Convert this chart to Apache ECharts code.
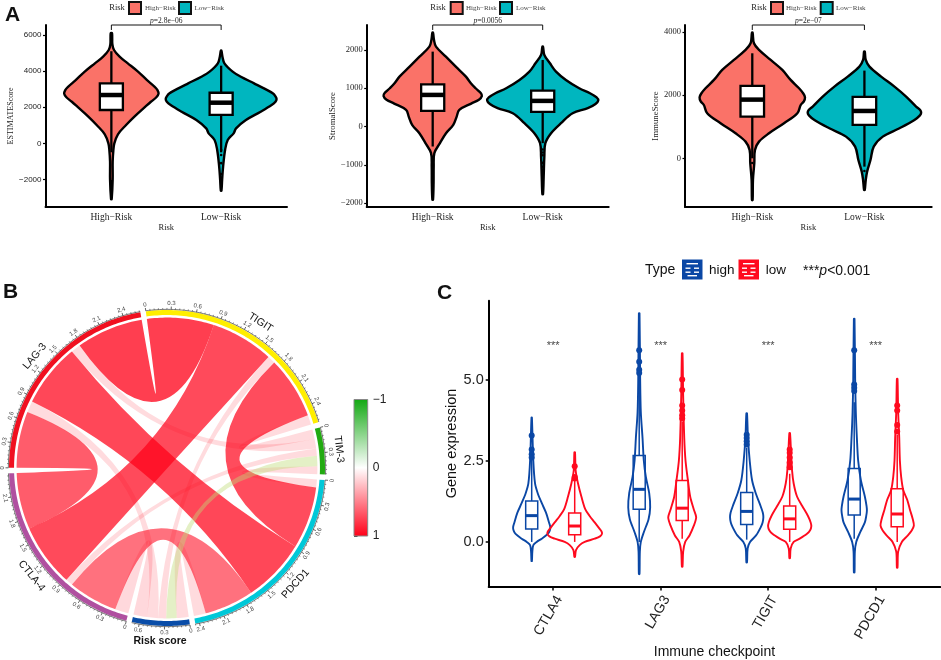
<!DOCTYPE html>
<html><head><meta charset="utf-8">
<style>html,body{margin:0;padding:0;background:#fff}#c{width:941px;height:660px}</style>
<script src="https://cdn.jsdelivr.net/npm/echarts@6/dist/echarts.min.js"></script>
</head><body><div id="c"></div>
<script>
// ---------- Panel A data: [score, half width of violin]
const riskCategories = ['High−Risk', 'Low−Risk'];
const estimateHigh = [[6100,.006],[5500,.009],[5170,.024],[4800,.075],[4430,.15],[3985,.24],[3500,.325],[3130,.395],[2950,.42],[2750,.43],[2550,.41],[2300,.36],[2030,.31],[1480,.21],[1000,.132],[500,.06],[0,.027],[-400,.018],[-1000,.012],[-2000,.012],[-3100,.003]];
const estimateLow = [[5130,.003],[4800,.012],[4430,.03],[3970,.105],[3690,.18],[3320,.30],[3040,.39],[2770,.47],[2600,.495],[2450,.505],[2300,.495],[2120,.46],[1750,.36],[1290,.226],[830,.136],[550,.114],[185,.06],[-370,.036],[-1290,.018],[-2030,.009],[-2620,.003]];
const stromalHigh = [[2452,.003],[2260,.012],[2087,.03],[1826,.12],[1565,.21],[1304,.302],[1130,.347],[1000,.39],[880,.435],[800,.447],[700,.42],[600,.35],[435,.242],[260,.218],[43,.187],[-174,.121],[-435,.066],[-696,.015],[-1043,.009],[-1478,.008],[-1913,.003]];
const stromalLow = [[2087,.003],[1870,.015],[1652,.066],[1435,.121],[1217,.211],[1000,.332],[870,.43],[760,.49],[680,.505],[590,.48],[480,.41],[348,.272],[87,.166],[-174,.076],[-435,.024],[-783,.015],[-1304,.009],[-1765,.003]];
const immuneHigh = [[3977,.003],[3640,.015],[3430,.06],[3112,.164],[2796,.268],[2480,.342],[2215,.417],[2050,.455],[1930,.47],[1800,.46],[1688,.432],[1424,.402],[1108,.283],[790,.149],[527,.06],[264,.024],[-158,.018],[-686,.006],[-1320,.003]];
const immuneLow = [[3376,.003],[3112,.012],[2900,.045],[2585,.149],[2268,.268],[1952,.372],[1635,.461],[1530,.497],[1445,.506],[1360,.495],[1213,.446],[950,.313],[686,.164],[370,.083],[-53,.054],[-422,.024],[-686,.012],[-1002,.003]];
// box: whisker low, q1, median, q3, whisker high
const estimateHighBox = [-500,1845,2675,3320,5100];
const estimateLowBox = [-500,1570,2250,2800,4300];
const stromalHighBox = [-522,409,826,1104,1957];
const stromalLowBox = [-435,383,670,939,1740];
const immuneHighBox = [0,1320,1857,2290,3323];
const immuneLowBox = [-264,1055,1498,1941,2775];
const estimateHighOut = [-2100];
const estimateLowOut = [-370,-650,-1100,-1700];
const stromalHighOut = [];
const stromalLowOut = [-600,-680,-750,-950,-1050];
const immuneHighOut = [-150];
const immuneLowOut = [-400];
const estimateTicks = [-2000,0,2000,4000,6000];
const stromalTicks = [-2000,-1000,0,1000,2000];
const immuneTicks = [0,2000,4000];

// ---------- Panel B data
const sectorNames = ['TIGIT','TIM-3','PDCD1','Risk score','CTLA-4','LAG-3'];
const sectorColors = ['#FFEE00','#22AA11','#00C8D8','#0A4DA8','#B050A0','#F01020'];
const linkFrom = ['LAG-3','LAG-3','LAG-3','LAG-3','LAG-3','TIGIT','TIGIT','TIGIT','TIGIT','PDCD1','PDCD1','PDCD1','CTLA-4','CTLA-4','TIM-3'];
const linkTo   = ['TIGIT','PDCD1','CTLA-4','TIM-3','Risk score','CTLA-4','PDCD1','TIM-3','Risk score','CTLA-4','TIM-3','Risk score','Risk score','TIM-3','Risk score'];
const linkCorr = [.84,.80,.71,.12,.14,.79,.78,.12,.10,.62,.10,.15,.17,.09,-.13];
const tigitOrder = ['LAG-3','CTLA-4','Risk score','PDCD1','TIM-3'];
const tim3Order = ['TIGIT','LAG-3','CTLA-4','Risk score','PDCD1'];
const pdcd1Order = ['TIM-3','TIGIT','LAG-3','CTLA-4','Risk score'];
const riskOrder = ['PDCD1','TIM-3','TIGIT','LAG-3','CTLA-4'];
const ctla4Order = ['Risk score','PDCD1','TIM-3','TIGIT','LAG-3'];
const lag3Order = ['CTLA-4','Risk score','PDCD1','TIM-3','TIGIT'];
const sectorOrders = [tigitOrder,tim3Order,pdcd1Order,riskOrder,ctla4Order,lag3Order];
const chordTickLabels = ['0','0.3','0.6','0.9','1.2','1.5','1.8','2.1','2.4'];
const colorbarTicks = [-1,0,1];

// ---------- Panel C data: [expression, half width of violin]
const checkpoints = ['CTLA4','LAG3','TIGIT','PDCD1'];
const ctla4High = [[3.83,.002],[2.5,.015],[1.8,.031],[1.5,.056],[1.2,.093],[.9,.133],[.6,.161],[.45,.173],[.35,.168],[.25,.15],[.1,.093],[0,.046],[-.1,.015],[-.3,.006],[-.59,.002]];
const ctla4Low = [[2.76,.003],[2.2,.009],[1.8,.031],[1.4,.062],[1,.099],[.8,.139],[.6,.186],[.4,.232],[.32,.25],[.25,.254],[.17,.235],[.1,.186],[0,.093],[-.1,.046],[-.25,.012],[-.46,.003]];
const lag3High = [[7.04,.003],[5,.009],[4,.015],[3.2,.031],[2.5,.043],[2,.062],[1.5,.093],[1.06,.102],[.7,.087],[.3,.043],[0,.015],[-.3,.006],[-.99,.003]];
const lag3Low = [[5.81,.003],[4.5,.009],[3.2,.019],[2.5,.031],[1.9,.053],[1.4,.074],[1,.108],[.76,.13],[.5,.108],[.2,.068],[0,.028],[-.3,.009],[-.76,.003]];
const tigitHigh = [[3.96,.003],[3.2,.012],[2.5,.028],[1.9,.05],[1.5,.084],[1.1,.13],[.9,.15],[.76,.155],[.6,.148],[.45,.13],[.2,.087],[0,.031],[-.2,.009],[-.63,.003]];
const tigitLow = [[3.35,.003],[2.8,.012],[2.2,.022],[1.8,.037],[1.4,.068],[1.1,.118],[.8,.17],[.6,.195],[.48,.201],[.36,.19],[.25,.161],[.1,.093],[0,.037],[-.2,.009],[-.5,.003]];
const pdcd1High = [[6.87,.003],[5,.009],[4,.015],[3.2,.025],[2.5,.037],[1.9,.062],[1.4,.099],[1.1,.115],[.96,.118],[.8,.112],[.6,.099],[.3,.056],[0,.019],[-.3,.006],[-.94,.003]];
const pdcd1Low = [[5.02,.003],[4,.009],[3.2,.019],[2.5,.025],[2,.037],[1.6,.056],[1.3,.093],[1,.118],[.7,.145],[.5,.155],[.35,.135],[.2,.099],[0,.043],[-.3,.009],[-.79,.003]];
const ctla4HighBox = [0,.40,.81,1.26,2.55];
const ctla4LowBox = [0,.22,.49,.89,1.9];
const lag3HighBox = [0,1.01,1.62,2.66,5.0];
const lag3LowBox = [.1,.66,1.04,1.89,3.7];
const tigitHighBox = [.07,.54,.94,1.52,2.9];
const tigitLowBox = [0,.39,.71,1.11,2.1];
const pdcd1HighBox = [.1,.83,1.32,2.26,4.3];
const pdcd1LowBox = [0,.47,.86,1.64,3.3];
const ctla4HighOut = [3.28,2.85,2.7,2.6];
const ctla4LowOut = [2.33,2.0,1.95];
const lag3HighOut = [5.9,5.55,5.3,5.2];
const lag3LowOut = [5.0,4.68,4.2,4.05,3.9,3.8];
const tigitHighOut = [3.3,3.2,3.1,3.0];
const tigitLowOut = [2.85,2.75,2.6,2.45,2.3];
const pdcd1HighOut = [5.9,4.85,4.75,4.65];
const pdcd1LowOut = [4.2,4.05,3.6,3.4];
const exprTicks = [0,2.5,5];

// ---------- drawing helpers
const SERIF = '"Liberation Serif"', SANS = '"Liberation Sans"';
const HIGHC = '#FA7268', LOWC = '#00B6BF', BLUE = '#0A47A5', RED = '#FF0A1E';

function violinSeries(ax, cx, profile, box, outs, o) {
  return {
    type: 'custom', coordinateSystem: 'cartesian2d', xAxisIndex: ax, yAxisIndex: ax,
    clip: false, silent: true, data: [[cx, box[2]]], encode: {x: 0, y: 1},
    renderItem(p, api) {
      const pt = (x, y) => api.coord([x, y]);
      const poly = profile.map(d => pt(cx + d[1], d[0]))
        .concat(profile.slice().reverse().map(d => pt(cx - d[1], d[0])));
      const kids = [{type: 'polygon', shape: {points: poly, smooth: o.smooth},
        style: {fill: o.fill, stroke: o.stroke, lineWidth: o.lw, lineJoin: 'round'}}];
      const ln = (x1, y1, x2, y2, w) => { const a = pt(x1, y1), b = pt(x2, y2);
        return {type: 'line', shape: {x1: a[0], y1: a[1], x2: b[0], y2: b[1]},
          style: {stroke: o.boxStroke, lineWidth: w}}; };
      kids.push(ln(cx, box[0], cx, box[1], o.blw), ln(cx, box[3], cx, box[4], o.blw));
      const tl = pt(cx - o.bw, box[3]), br = pt(cx + o.bw, box[1]);
      kids.push({type: 'rect', shape: {x: tl[0], y: tl[1], width: br[0] - tl[0], height: br[1] - tl[1]},
        style: {fill: o.boxFill, stroke: o.boxStroke, lineWidth: o.blw}});
      kids.push(ln(cx - o.bw, box[2], cx + o.bw, box[2], o.mlw));
      outs.forEach(v => { const c = pt(cx, v);
        kids.push({type: 'circle', shape: {cx: c[0], cy: c[1], r: o.or}, style: {fill: o.boxStroke}}); });
      return {type: 'group', children: kids};
    }
  };
}
const aStyle = f => ({fill: f, stroke: '#000', lw: 2.4, smooth: 0.35, bw: .105, boxFill: '#fff', boxStroke: '#000', blw: 2.3, mlw: 4.5, or: 1.3});
const cStyle = c => ({fill: 'none', stroke: c, lw: 1.9, smooth: 0.3, bw: .056, boxFill: 'none', boxStroke: c, blw: 1.5, mlw: 3, or: 3});

function bracketSeries(ax, top, drop, p) {
  return {
    type: 'custom', coordinateSystem: 'cartesian2d', xAxisIndex: ax, yAxisIndex: ax, clip: false, silent: true,
    data: [[1.5, top]], encode: {x: 0, y: 1},
    renderItem(pp, api) {
      const a = api.coord([1, drop]), b = api.coord([1, top]), c = api.coord([2, top]), d = api.coord([2, drop]), m = api.coord([1.5, top]);
      return {type: 'group', children: [
        {type: 'polyline', shape: {points: [a, b, c, d]}, style: {fill: 'none', stroke: '#111', lineWidth: 1}},
        {type: 'text', x: m[0], y: m[1] - 3.5, style: {text: '{i|p}=' + p, fontFamily: SERIF, fontSize: 7.5, fill: '#222', align: 'center', verticalAlign: 'middle',
          rich: {i: {fontStyle: 'italic', fontFamily: SERIF, fontSize: 7.5, fill: '#222'}}}}
      ]};
    }
  };
}

// ---------- axes
const grids = [], xAxes = [], yAxes = [];
function addA(left, width, min, max, ticks, name, tickFont, nameSize, nameGap) {
  grids.push({left, top: 25, width, height: 182});
  xAxes.push({type: 'value', gridIndex: grids.length - 1, min: .4, max: 2.6, splitLine: {show: false}, name: 'Risk', nameLocation: 'middle', nameGap: 11.5,
    nameTextStyle: {fontFamily: SERIF, fontSize: 8.5, color: '#222'},
    axisLine: {onZero: false, lineStyle: {color: '#000', width: 2}},
    axisTick: {customValues: [1, 2], length: 0},
    axisLabel: {customValues: [1, 2], fontFamily: SERIF, fontSize: 9.5, color: '#222', margin: 5, formatter: v => riskCategories[v - 1]}});
  yAxes.push({type: 'value', gridIndex: grids.length - 1, min, max, splitLine: {show: false}, name, nameLocation: 'middle', nameGap,
    nameTextStyle: {fontFamily: SERIF, fontSize: nameSize, color: '#222'},
    axisLine: {onZero: false, lineStyle: {color: '#000', width: 2}},
    axisTick: {customValues: ticks, length: 2.5, lineStyle: {width: 1.2, color: '#000'}},
    axisLabel: {customValues: ticks, fontFamily: tickFont, fontSize: tickFont === SANS ? 8 : 8.5, color: '#222', margin: 4, formatter: v => String(v).replace('-', '−')}});
}
addA(45.5, 241.5, -3529, 6554, estimateTicks, 'ESTIMATEScore', SANS, 8, 24);
addA(366.7, 242, -2103, 2653, stromalTicks, 'StromalScore', SERIF, 8.8, 25);
addA(685, 246.7, -1541, 4218, immuneTicks, 'ImmuneScore', SERIF, 8.8, 21);
// panel C
grids.push({left: 488.7, top: 300.7, width: 451.5, height: 289.3});
xAxes.push({type: 'value', gridIndex: 3, min: .4, max: 4.6, splitLine: {show: false}, name: 'Immune checkpoint', nameLocation: 'middle', nameGap: 52,
  nameTextStyle: {fontFamily: SANS, fontSize: 14, color: '#111'},
  axisLine: {onZero: false, lineStyle: {color: '#000', width: 2}},
  axisTick: {customValues: [1,2,3,4], length: 4, lineStyle: {width: 1.5, color: '#000'}},
  axisLabel: {customValues: [1,2,3,4], rotate: 60, verticalAlign: 'top', align: 'right', fontFamily: SANS, fontSize: 14, color: '#222', margin: 7, formatter: v => checkpoints[v - 1]}});
yAxes.push({type: 'value', gridIndex: 3, min: -1.37, max: 7.43, splitLine: {show: false}, name: 'Gene expression', nameLocation: 'middle', nameGap: 29,
  nameTextStyle: {fontFamily: SANS, fontSize: 14.5, color: '#111'},
  axisLine: {onZero: false, lineStyle: {color: '#000', width: 2}},
  axisTick: {customValues: exprTicks, length: 3, lineStyle: {width: 1.5, color: '#000'}},
  axisLabel: {customValues: exprTicks, fontFamily: SANS, fontSize: 14.5, color: '#222', margin: 5, formatter: v => v.toFixed(1)}});
// colour bar
grids.push({left: 354, top: 399.5, width: 13.7, height: 136.5});
xAxes.push({type: 'value', gridIndex: 4, min: 0, max: 1, show: false});
yAxes.push({type: 'value', gridIndex: 4, min: -1, max: 1, inverse: true, position: 'right', interval: 1, splitLine: {show: false},
  axisLine: {show: false}, axisTick: {length: 3.5, lineStyle: {color: '#333', width: 1}},
  axisLabel: {fontFamily: SANS, fontSize: 12, color: '#222', margin: 5, formatter: v => String(v).replace('-', '−')}});

// ---------- chord layout
const gapDeg = 2, chordStart = -7.7;
const corrOf = (a, b) => { for (let i = 0; i < linkFrom.length; i++)
  if ((linkFrom[i] === a && linkTo[i] === b) || (linkFrom[i] === b && linkTo[i] === a)) return linkCorr[i]; return 0; };
const sectorTotals = sectorNames.map((n, i) => sectorOrders[i].reduce((s, m) => s + Math.abs(corrOf(n, m)), 0));
const degPerUnit = (360 - gapDeg * sectorNames.length) / sectorTotals.reduce((a, b) => a + b, 0);
const sectorStart = [], slot = {};
{ let ang = chordStart;
  sectorNames.forEach((n, i) => { sectorStart.push(ang); let a = ang;
    sectorOrders[i].forEach(m => { const w = Math.abs(corrOf(n, m)) * degPerUnit; slot[n + '|' + m] = [a, a + w]; a += w; });
    ang = a + gapDeg; }); }
const R_LINK = .952, R_IN = .968, R_OUT = 1, R_TICK = 1.004;
const norm = a => ((a % 360) + 360) % 360;
function arcCmds(api, r, a1, a2, cmd0) { let s = ''; const n = Math.max(2, Math.ceil(Math.abs(a2 - a1)));
  for (let i = 0; i <= n; i++) { const p = api.coord([r, norm(a1 + (a2 - a1) * i / n)]);
    s += (i === 0 ? cmd0 : 'L') + p[0].toFixed(2) + ' ' + p[1].toFixed(2) + ' '; } return s; }
const linkFill = r => r < 0 ? 'rgba(190,220,120,0.42)' : 'rgba(255,0,24,' + Math.max(.14, r * .9).toFixed(3) + ')';

const polarLinks = {
  type: 'custom', coordinateSystem: 'polar', polarIndex: 0, silent: true, clip: false,
  data: linkCorr.map((c, i) => [1, i]),
  renderItem(p, api) {
    const i = p.dataIndex, A = slot[linkFrom[i] + '|' + linkTo[i]], B = slot[linkTo[i] + '|' + linkFrom[i]];
    const c = api.coord([0, 0]), cs = c[0].toFixed(2) + ' ' + c[1].toFixed(2);
    const b1 = api.coord([R_LINK, norm(B[0])]), a1 = api.coord([R_LINK, norm(A[0])]);
    const d = arcCmds(api, R_LINK, A[0], A[1], 'M') + 'Q' + cs + ' ' + b1[0].toFixed(2) + ' ' + b1[1].toFixed(2) + ' ' +
      arcCmds(api, R_LINK, B[0], B[1], 'L') + 'Q' + cs + ' ' + a1[0].toFixed(2) + ' ' + a1[1].toFixed(2) + ' Z';
    return {type: 'path', shape: {pathData: d}, style: {fill: linkFill(linkCorr[i])}, z2: linkCorr[i] < 0 ? 5 : 1};
  }
};
const polarSectors = {
  type: 'custom', coordinateSystem: 'polar', polarIndex: 0, silent: true, clip: false,
  data: sectorNames.map((n, i) => [1, i]),
  renderItem(p, api) {
    const i = p.dataIndex, a0 = sectorStart[i], a1 = a0 + sectorTotals[i] * degPerUnit, kids = [];
    kids.push({type: 'path', shape: {pathData: arcCmds(api, R_OUT, a0, a1, 'M') + arcCmds(api, R_IN, a1, a0, 'L') + 'Z'}, style: {fill: sectorColors[i]}});
    kids.push({type: 'path', shape: {pathData: arcCmds(api, R_TICK, a0, a1, 'M')}, style: {fill: 'none', stroke: '#222', lineWidth: .6}});
    const textRot = a => { const t = norm(a); return (t > 95 && t < 265) ? t - 180 : t; };
    for (let u = 0; u <= sectorTotals[i] + 1e-6; u += .05) {
      const a = a0 + u * degPerUnit, major = Math.abs(u / .3 - Math.round(u / .3)) < 1e-6;
      const s = api.coord([R_TICK, norm(a)]), e = api.coord([major ? 1.022 : 1.013, norm(a)]);
      kids.push({type: 'line', shape: {x1: s[0], y1: s[1], x2: e[0], y2: e[1]}, style: {stroke: '#222', lineWidth: major ? .7 : .5}});
    }
    chordTickLabels.forEach((t, k) => { const u = +t; if (u > sectorTotals[i]) return;
      const a = a0 + u * degPerUnit, q = api.coord([1.042, norm(a)]);
      kids.push({type: 'text', x: q[0], y: q[1], rotation: -textRot(a) * Math.PI / 180,
        style: {text: t, fontFamily: SANS, fontSize: 6, fill: '#444', align: 'center', verticalAlign: 'middle'}}); });
    const mid = (a0 + a1) / 2, q = api.coord([1.095, norm(mid)]);
    kids.push({type: 'text', x: q[0], y: q[1], rotation: i === 3 ? 0 : -textRot(mid) * Math.PI / 180,
      style: {text: sectorNames[i], fontFamily: SANS, fontSize: 10.5, fill: '#111', fontWeight: i === 3 ? 'bold' : 'normal', align: 'center', verticalAlign: 'middle'}});
    return {type: 'group', children: kids};
  }
};
const colorbar = {
  type: 'custom', coordinateSystem: 'cartesian2d', xAxisIndex: 4, yAxisIndex: 4, silent: true, clip: false,
  data: [[0, -1]], encode: {x: 0, y: 1},
  renderItem(p, api) {
    const a = api.coord([0, colorbarTicks[0]]), b = api.coord([1, colorbarTicks[2]]);
    return {type: 'rect', shape: {x: a[0], y: a[1], width: b[0] - a[0], height: b[1] - a[1]},
      style: {stroke: '#888', lineWidth: 1, fill: new echarts.graphic.LinearGradient(0, 0, 0, 1, [
        {offset: 0, color: '#11A811'}, {offset: .5, color: '#fff'}, {offset: 1, color: '#FF0018'}])}};
  }
};

// ---------- series
const series = [
  violinSeries(0, 1, estimateHigh, estimateHighBox, estimateHighOut, aStyle(HIGHC)),
  violinSeries(0, 2, estimateLow, estimateLowBox, estimateLowOut, aStyle(LOWC)),
  bracketSeries(0, 6554, 6277, '2.8e−06'),
  violinSeries(1, 1, stromalHigh, stromalHighBox, stromalHighOut, aStyle(HIGHC)),
  violinSeries(1, 2, stromalLow, stromalLowBox, stromalLowOut, aStyle(LOWC)),
  bracketSeries(1, 2653, 2523, '0.0056'),
  violinSeries(2, 1, immuneHigh, immuneHighBox, immuneHighOut, aStyle(HIGHC)),
  violinSeries(2, 2, immuneLow, immuneLowBox, immuneLowOut, aStyle(LOWC)),
  bracketSeries(2, 4218, 4060, '2e−07'),
  violinSeries(3, .8, ctla4High, ctla4HighBox, ctla4HighOut, cStyle(BLUE)),
  violinSeries(3, 1.2, ctla4Low, ctla4LowBox, ctla4LowOut, cStyle(RED)),
  violinSeries(3, 1.8, lag3High, lag3HighBox, lag3HighOut, cStyle(BLUE)),
  violinSeries(3, 2.2, lag3Low, lag3LowBox, lag3LowOut, cStyle(RED)),
  violinSeries(3, 2.8, tigitHigh, tigitHighBox, tigitHighOut, cStyle(BLUE)),
  violinSeries(3, 3.2, tigitLow, tigitLowBox, tigitLowOut, cStyle(RED)),
  violinSeries(3, 3.8, pdcd1High, pdcd1HighBox, pdcd1HighOut, cStyle(BLUE)),
  violinSeries(3, 4.2, pdcd1Low, pdcd1LowBox, pdcd1LowOut, cStyle(RED)),
  {type: 'scatter', xAxisIndex: 3, yAxisIndex: 3, symbolSize: 0, silent: true, data: [1,2,3,4].map(x => [x, 6.05]),
    label: {show: true, position: 'inside', formatter: '***', fontFamily: SANS, fontSize: 11, color: '#111'}},
  polarLinks, polarSectors, colorbar
];

// ---------- legends and panel letters
const gfx = [];
const txt = (x, y, text, size, fam, extra) => gfx.push({type: 'text', x, y, silent: true,
  style: Object.assign({text, fontFamily: fam, fontSize: size, fill: '#222', verticalAlign: 'middle'}, extra || {})});
[[117, 129, 145, 179, 194.5], [438, 450.7, 466, 500, 516], [759, 771, 786, 820.7, 836]].forEach(l => {
  txt(l[0], 8, 'Risk', 8.5, SERIF, {align: 'center'});
  gfx.push({type: 'rect', silent: true, shape: {x: l[1], y: 2, width: 12, height: 12}, style: {fill: HIGHC, stroke: '#111', lineWidth: 2}});
  txt(l[2], 8, riskCategories[0], 7, SERIF, {fill: '#444'});
  gfx.push({type: 'rect', silent: true, shape: {x: l[3], y: 2, width: 12, height: 12}, style: {fill: LOWC, stroke: '#111', lineWidth: 2}});
  txt(l[4], 8, riskCategories[1], 7, SERIF, {fill: '#444'});
});
txt(5, 15, 'A', 21, SANS, {fontWeight: 'bold', fill: '#111'});
txt(3, 292.5, 'B', 21, SANS, {fontWeight: 'bold', fill: '#111'});
txt(437, 293, 'C', 21, SANS, {fontWeight: 'bold', fill: '#111'});
txt(645, 270, 'Type', 14, SANS, {fill: '#111'});
[[682, BLUE], [738.5, RED]].forEach(k => {
  const x = k[0], c = k[1], y = 259.5;
  gfx.push({type: 'rect', silent: true, shape: {x, y, width: 20.5, height: 20}, style: {fill: c}});
  [[3.5, 4.5, 11.5], [8, 3.5, 5], [8, 12, 5], [12, 3.5, 5], [12, 12, 5], [15.5, 5.5, 9.5]].forEach(r => {
    gfx.push({type: 'rect', silent: true, shape: {x: x + r[1], y: y + r[0], width: r[2], height: 1.4}, style: {fill: '#fff'}}); });
});
txt(709, 270, 'high', 13.5, SANS, {fill: '#111'});
txt(765.7, 270, 'low', 13.5, SANS, {fill: '#111'});
gfx.push({type: 'text', x: 803, y: 271, silent: true, style: {text: '***{i|p}<0.001', fontFamily: SANS, fontSize: 14, fill: '#111', verticalAlign: 'middle',
  rich: {i: {fontStyle: 'italic', fontFamily: SANS, fontSize: 14, fill: '#111'}}}});

const chart = echarts.init(document.getElementById('c'), null, {renderer: 'canvas'});
chart.setOption({
  animation: false, backgroundColor: '#fff',
  grid: grids, xAxis: xAxes, yAxis: yAxes,
  polar: {center: [167, 468], radius: 158},
  angleAxis: {min: 0, max: 360, startAngle: 90, clockwise: true, show: false},
  radiusAxis: {min: 0, max: 1, show: false},
  series, graphic: gfx
});
</script></body></html>
